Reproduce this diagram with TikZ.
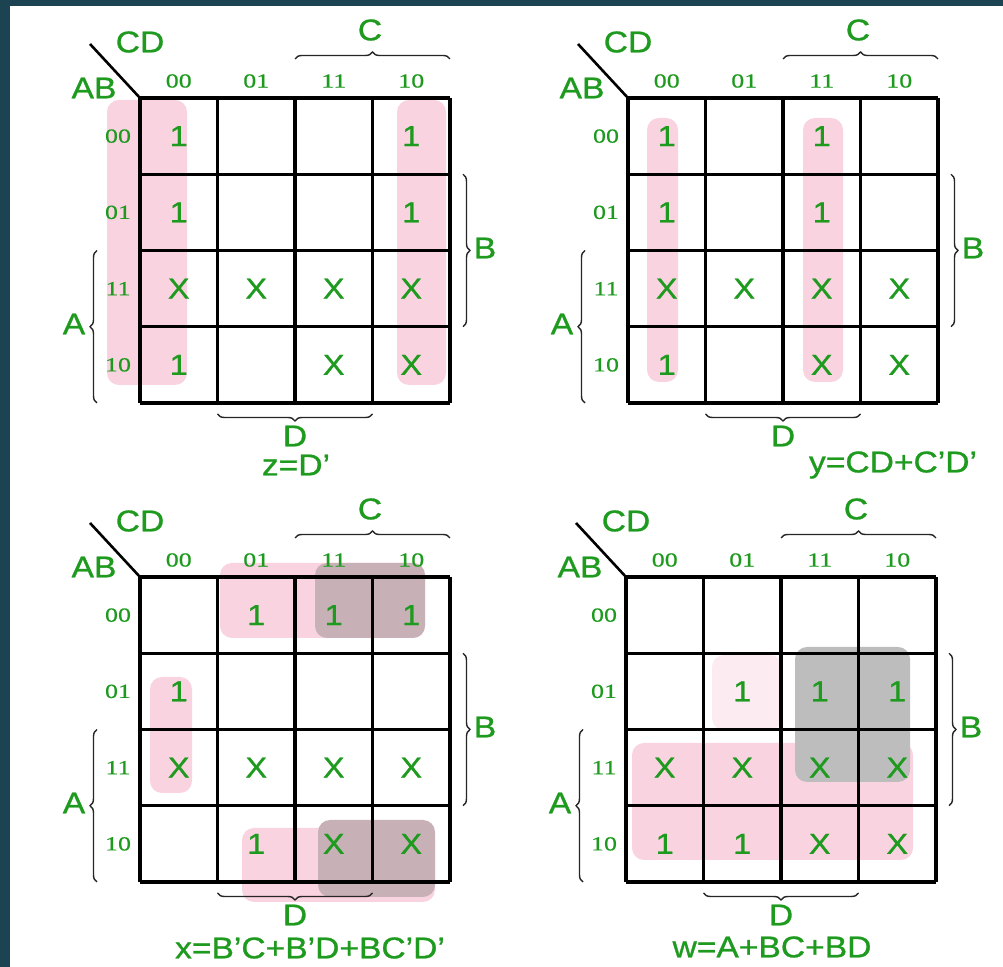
\documentclass[tikz,border=0pt]{standalone}
\usepackage{fontspec}
\setmainfont{Liberation Sans}
\newfontfamily\kmapfont[FakeStretch=1.12,FakeBold=0.9]{Liberation Sans}
\newfontfamily\codefont[FakeStretch=1.3,FakeBold=0.5]{Liberation Serif}
\usepackage{tikz}
\usetikzlibrary{positioning,decorations.pathreplacing,calc}
\usepackage{xcolor}
\definecolor{slide}{HTML}{1B4352}
\definecolor{kgreen}{HTML}{1E9A1E}
\definecolor{pinkgrp}{HTML}{F9D3E0}
\definecolor{paleprk}{HTML}{FCEBF0}
\definecolor{mauvegrp}{HTML}{C7B0B6}
\definecolor{graygrp}{HTML}{BDBDBD}

\begin{document}
\begin{tikzpicture}[x=0.5pt, y=-0.5pt,
  entry/.style={font=\kmapfont\fontsize{14.5}{14.5}\selectfont, text=kgreen, inner sep=0pt},
  var/.style={font=\kmapfont\fontsize{15}{15}\selectfont, text=kgreen, inner sep=0pt},
  code/.style={font=\codefont\fontsize{10}{10}\selectfont, text=kgreen, inner sep=0pt},
  gridline/.style={line width=1.7pt, black},
  slash/.style={line width=1.3pt, black},
  brace/.style={decorate, decoration={brace, amplitude=3.5pt}, line width=0.7pt, black!85},
  group/.style={rounded corners=6pt, draw=none}
]
\fill[slide] (0,0) rectangle (1003,967);
\fill[white] (10,6) rectangle (1003,967);
\useasboundingbox (0,0) rectangle (1003,967);

% groups, under the grids
\fill[group, pinkgrp] (107,100) rectangle (187,385);
\fill[group, pinkgrp] (397,100) rectangle (446,385);
\fill[group, pinkgrp] (647,118) rectangle (678,382);
\fill[group, pinkgrp] (803,118) rectangle (843,382);
\fill[group, pinkgrp] (220,563) rectangle (425,638);
\fill[group, pinkgrp] (150,677) rectangle (192,793);
\fill[group, pinkgrp] (242,828) rectangle (435,902);
\fill[group, mauvegrp] (315,563) rectangle (425,638);
\fill[group, mauvegrp] (318,820) rectangle (435,897);
\fill[group, paleprk] (712,655) rectangle (782,730);
\fill[group, pinkgrp] (632,743) rectangle (913,860);
\fill[group, graygrp] (795,647) rectangle (910,782);

% the four maps
\foreach \m/\ox/\oy in {z/140/98, y/628/98, x/140/577, w/626/577} {
  \begin{scope}[shift={(\ox,\oy)}]
    \foreach \i in {0,...,4} {
      \draw[gridline] (\i*77.5,0) -- (\i*77.5,305);
      \draw[gridline] (0,\i*76.25) -- (310,\i*76.25);
    }
    \foreach \r in {0,...,3}
      \foreach \c in {0,...,3}
        \coordinate (\m-\r\c) at ({(\c+0.5)*77.5},{(\r+0.5)*76.25});
    \coordinate (\m-corner) at (0,0);
    \coordinate (\m-tail) at (-50,-54);
    \draw[slash] (\m-tail) -- (\m-corner);
    \node[var] (\m-cd) at (0,-56) {CD};
    \node[var] (\m-ab) at (-46,-10) {AB};
    \foreach \c/\t in {0/00, 1/01, 2/11, 3/10} {
      \node[code] (\m-col\c) at ({(\c+0.5)*77.5},-17) {\t};
      \node[code] (\m-row\c) at (-22,{(\c+0.5)*76.25}) {\t};
    }
    % braces
    \coordinate (\m-c1) at (155,-39);
    \coordinate (\m-c2) at (310,-39);
    \coordinate (\m-b1) at (323,76.25);
    \coordinate (\m-b2) at (323,228.75);
    \coordinate (\m-a1) at (-43,305);
    \coordinate (\m-a2) at (-43,152.5);
    \coordinate (\m-d1) at (232.5,316);
    \coordinate (\m-d2) at (77.5,316);
    \draw[brace] (\m-c1) -- (\m-c2);
    \draw[brace] (\m-b1) -- (\m-b2);
    \draw[brace] (\m-a1) -- (\m-a2);
    \draw[brace] (\m-d1) -- (\m-d2);
    \node[var] (\m-C) at (230,-68) {C};
    \node[var] (\m-B) at (345,150) {B};
    \node[var] (\m-A) at (-66,226) {A};
    \node[var] (\m-D) at (155,338) {D};
  \end{scope}
}

% cell values
\foreach \r/\c/\v in {0/0/1, 0/3/1, 1/0/1, 1/3/1, 2/0/X, 2/1/X, 2/2/X, 2/3/X, 3/0/1, 3/2/X, 3/3/X}
  \node[entry] (z-v\r\c) at (z-\r\c) {\v};
\foreach \r/\c/\v in {0/0/1, 0/2/1, 1/0/1, 1/2/1, 2/0/X, 2/1/X, 2/2/X, 2/3/X, 3/0/1, 3/2/X, 3/3/X}
  \node[entry] (y-v\r\c) at (y-\r\c) {\v};
\foreach \r/\c/\v in {0/1/1, 0/2/1, 0/3/1, 1/0/1, 2/0/X, 2/1/X, 2/2/X, 2/3/X, 3/1/1, 3/2/X, 3/3/X}
  \node[entry] (x-v\r\c) at (x-\r\c) {\v};
\foreach \r/\c/\v in {1/1/1, 1/2/1, 1/3/1, 2/0/X, 2/1/X, 2/2/X, 2/3/X, 3/0/1, 3/1/1, 3/2/X, 3/3/X}
  \node[entry] (w-v\r\c) at (w-\r\c) {\v};

% results
\node[var] (z-eq) at (296,465) {z=D’};
\node[var] (y-eq) at (893,465) {y=CD+C’D’};
\node[var] (x-eq) at (310,948) {x=B’C+B’D+BC’D’};
\node[var] (w-eq) at (772,947) {w=A+BC+BD};
\end{tikzpicture}
\end{document}
